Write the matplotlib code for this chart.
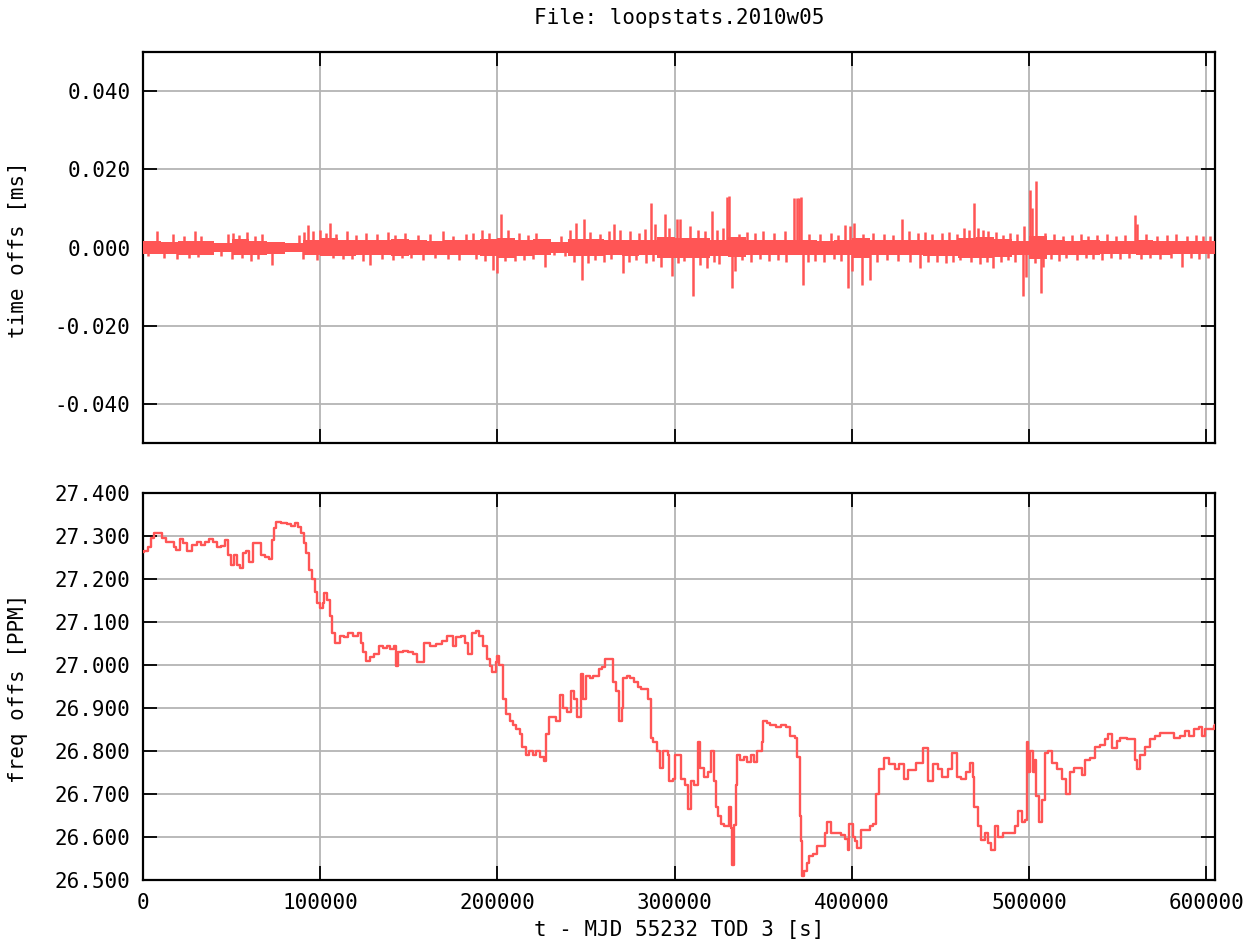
import numpy as np
import matplotlib
matplotlib.use('Agg')
import matplotlib.pyplot as plt

plt.rcParams['font.family'] = ['DejaVu Sans Mono']

# time offset: band envelope every 10 ks (values in 1e-3 ms)
band_t = [0, 10, 20, 30, 40, 50, 60, 70, 80, 90,
          100, 110, 120, 130, 140, 150, 160, 170, 180, 190,
          200, 210, 220, 230, 240, 250, 260, 270, 280, 290,
          300, 310, 320, 330, 340, 350, 360, 370, 380, 390,
          400, 410, 420, 430, 440, 450, 460, 470, 480, 490,
          500, 510, 520, 530, 540, 550, 560, 570, 580, 590,
          604.8]
band_hi = [1.6, 1.4, 1.7, 1.6, 1.2, 2.2, 1.7, 1.4, 1.2, 2.0,
           2.4, 2.0, 1.8, 2.0, 2.2, 1.8, 1.7, 1.9, 1.8, 2.2,
           2.4, 2.0, 2.1, 1.3, 2.2, 2.2, 1.9, 2.0, 1.8, 2.6,
           2.4, 2.4, 2.0, 2.6, 1.9, 1.8, 1.9, 1.8, 1.7, 1.8,
           2.4, 1.8, 1.8, 2.0, 1.9, 2.0, 2.4, 2.6, 2.2, 1.6,
           2.9, 1.9, 1.7, 1.8, 1.7, 1.6, 1.8, 1.7, 1.6, 1.7,
           1.7]
band_lo = [-1.7, -1.6, -1.8, -1.9, -1.2, -2.0, -1.8, -1.6, -1.2, -1.9,
           -2.2, -2.1, -2.0, -2.0, -2.1, -1.8, -1.9, -1.9, -1.8, -2.2,
           -2.6, -2.1, -2.0, -1.3, -2.3, -2.2, -1.9, -2.2, -1.8, -2.8,
           -2.6, -2.6, -2.2, -2.4, -1.9, -2.0, -1.9, -2.0, -1.8, -2.0,
           -2.6, -2.0, -1.8, -2.0, -2.1, -2.2, -2.6, -2.8, -2.4, -1.8,
           -2.9, -2.0, -1.8, -1.9, -1.7, -1.7, -1.8, -1.8, -1.7, -1.7,
           -1.7]

# spikes above / below the band (t in ks, value in 1e-3 ms)
up_t = [7.7, 17, 23, 29.3, 33, 48, 51, 54, 58.5, 63,
        67, 88, 91, 93, 96, 100, 103, 105.5, 109, 115,
        120, 126, 132, 138, 142, 148, 155, 162, 169, 175,
        182, 186, 191, 195, 202, 206, 212, 217, 222, 236,
        241, 244.5, 249, 252, 258, 263, 266, 269, 275, 280,
        283, 286.5, 289, 294.4, 297, 301, 303, 308.5, 313, 317,
        320.8, 324, 327, 329.5, 330.8, 336, 341, 345, 350, 356,
        362, 367.5, 368.7, 369.9, 371.2, 376, 382, 388, 392, 396,
        399, 401, 406, 412, 418, 423, 428, 432, 437, 441,
        445, 451, 455, 459, 463, 466, 469, 471, 474, 477,
        481, 485, 489, 493, 497, 500.3, 501.3, 503.9, 509, 514,
        519, 524, 529, 533, 538, 544, 549, 554, 559.4, 561,
        566, 572, 578, 583, 589, 594, 598, 602]
up_v = [4.2, 3.4, 3.0, 4.2, 3.0, 3.5, 3.8, 3.2, 4.0, 3.0,
        3.4, 3.2, 4.0, 5.8, 4.2, 4.5, 3.8, 6.3, 3.5, 4.2,
        3.2, 3.8, 3.5, 4.0, 3.3, 3.8, 3.2, 3.5, 4.2, 3.0,
        3.4, 3.8, 4.5, 3.6, 8.5, 4.5, 3.8, 3.2, 3.6, 3.0,
        4.5, 6.3, 7.3, 4.0, 3.5, 4.2, 6.0, 4.5, 4.2, 3.6,
        4.8, 11.5, 6.0, 8.5, 5.0, 7.2, 7.2, 5.5, 4.5, 4.2,
        9.3, 4.5, 5.0, 13.0, 13.1, 3.5, 4.0, 3.6, 4.2, 3.8,
        4.2, 12.7, 12.7, 12.7, 12.8, 3.5, 3.4, 3.8, 3.2, 5.8,
        5.5, 6.3, 3.5, 3.6, 3.5, 3.2, 7.2, 4.2, 3.8, 4.0,
        3.4, 3.8, 4.0, 3.4, 5.0, 4.5, 11.5, 5.0, 4.5, 4.2,
        4.0, 3.3, 3.7, 3.5, 5.5, 14.8, 10.0, 17.0, 3.8, 3.5,
        3.0, 3.2, 3.5, 3.0, 3.2, 3.4, 3.0, 3.2, 8.4, 6.0,
        3.4, 3.0, 3.2, 3.4, 3.0, 3.2, 3.0, 3.0]
dn_t = [3, 12, 19, 26, 31, 44, 50, 56, 61, 65,
        72.6, 90, 98, 107, 113, 118, 124, 128, 135, 141,
        146, 151, 158, 165, 172, 178, 188, 193, 197.7, 200,
        204, 210, 215, 220, 226.7, 232, 238, 243, 247.5, 251,
        255, 260, 264, 271, 274, 278, 284, 288, 292, 298.5,
        302, 305, 310.4, 314, 318, 322, 325, 332.4, 334, 338,
        343, 348, 353, 358, 363, 372.5, 375, 379, 384, 390,
        394, 398, 400, 405.5, 410, 414, 420, 426, 433, 438.2,
        443, 448, 453, 457, 461, 467, 472, 476, 479.7, 484,
        488, 492, 496.6, 498, 503, 506.5, 508, 512, 517, 521,
        527, 532, 536, 541, 546, 551, 556, 563, 568, 574,
        580, 586.4, 591, 596, 601]
dn_v = [-2.2, -2.8, -3.0, -2.8, -2.5, -2.2, -3.0, -2.8, -3.4, -3.0,
        -4.4, -3.0, -3.2, -2.8, -3.0, -3.0, -3.4, -4.4, -3.0, -3.2,
        -2.8, -2.8, -3.2, -2.8, -3.0, -3.2, -3.0, -3.4, -5.7, -6.5,
        -3.5, -3.4, -3.2, -3.0, -5.0, -2.0, -2.2, -3.6, -8.2, -4.0,
        -3.2, -3.6, -3.0, -6.5, -3.8, -3.2, -4.0, -3.5, -5.0, -7.4,
        -4.0, -3.5, -12.5, -4.5, -5.2, -3.6, -4.2, -10.4, -6.0, -3.2,
        -3.6, -3.0, -3.4, -3.2, -3.6, -9.5, -3.6, -3.4, -3.8, -3.0,
        -3.4, -10.3, -6.0, -9.5, -8.2, -3.6, -3.2, -3.4, -3.6, -5.2,
        -3.8, -3.6, -4.0, -3.6, -3.2, -3.8, -4.2, -3.6, -5.2, -3.6,
        -3.2, -3.6, -12.5, -7.5, -4.0, -11.7, -5.0, -3.0, -3.4, -2.8,
        -3.2, -2.8, -3.0, -3.2, -2.8, -3.0, -2.8, -3.0, -2.6, -3.0,
        -2.8, -5.0, -2.8, -3.0, -2.6]

# frequency offset (t in ks, PPM)
freq_t = [0, 0.6, 2.6, 4.6, 6, 8.7, 10.7, 12.7, 15.7, 17.7,
          18.7, 20.7, 22.7, 25, 27.8, 30.4, 32.8, 34.8, 37.2, 39.3,
          41.9, 43.9, 46.5, 47.9, 49.5, 51.5, 53, 55, 56.6, 58,
          60, 62, 64.6, 66.6, 68.7, 71, 72.7, 73.7, 75, 78,
          81, 83.5, 85.6, 87.6, 89.2, 90.8, 92.2, 93.8, 95.2, 96.8,
          98.2, 99.7, 101.3, 102.3, 103.9, 105.3, 106.9, 108.3, 111, 113.3,
          115.8, 118.4, 121.4, 123, 124.4, 125.8, 127.8, 130.5, 133, 135.5,
          137.5, 139.5, 141.5, 142.5, 144, 146.6, 149.6, 152.6, 154.6, 156.6,
          158.6, 161.7, 165.3, 168.7, 171.7, 174.8, 176.8, 179.4, 181.8, 183.4,
          185.8, 187.8, 189.8, 191.9, 193.9, 195.5, 196.9, 198.9, 199.9, 201,
          203, 205, 207, 209, 210.5, 212.5, 214, 216, 218, 220,
          222, 224, 226.5, 227.5, 229, 231, 233, 235, 237, 239,
          241.7, 243, 245, 247, 248.2, 250, 252, 254, 257, 259,
          260.5, 263, 265.3, 267, 268.7, 270, 271, 273, 275, 277,
          279, 281, 284, 285, 286.6, 288, 290, 291.6, 293.5, 296,
          297, 299, 300, 302.8, 303.7, 305.6, 307.4, 309, 311, 313,
          314, 316.7, 318.6, 320.5, 322.3, 323.5, 324.5, 326, 328, 330.7,
          331.6, 332.2, 333.5, 334.5, 335.4, 337, 339, 341, 343, 344.7,
          346.5, 349, 350, 352, 354, 357, 360, 363, 365, 368,
          369, 370.4, 371.2, 372, 373, 374.5, 376, 378, 380, 383,
          384.5, 386, 388, 392, 394, 396, 397.5, 398.5, 400.4, 401.5,
          403, 405, 408, 410, 411.7, 413.6, 415.5, 418, 421, 424,
          426.8, 429.6, 431.5, 436, 440, 442.8, 445.7, 448.5, 451, 454,
          456.6, 459, 461.7, 464.5, 466.4, 468, 469, 471, 473, 475,
          476.8, 478.7, 480.6, 482.5, 485, 490, 492, 493.8, 495.7, 497.5,
          498.5, 499.4, 500.4, 502, 503, 504, 505.6, 507, 508.8, 510.8,
          512.6, 515.5, 518.3, 521, 523, 525, 527.7, 529.6, 531.5, 534,
          537, 540, 542.8, 544.7, 546.6, 549.4, 551.3, 555, 558, 559.8,
          561, 562.6, 565.5, 568.3, 571, 574, 578.7, 581.5, 585, 588,
          590, 593, 596, 597.5, 599.4, 604, 604.8]
freq_ppm = [27.262, 27.264, 27.275, 27.295, 27.308, 27.308, 27.295, 27.287, 27.287, 27.275,
            27.268, 27.292, 27.283, 27.264, 27.28, 27.285, 27.28, 27.287, 27.292, 27.285,
            27.275, 27.277, 27.29, 27.256, 27.233, 27.256, 27.233, 27.225, 27.26, 27.266,
            27.24, 27.283, 27.283, 27.256, 27.25, 27.246, 27.29, 27.318, 27.333, 27.331,
            27.327, 27.323, 27.331, 27.322, 27.306, 27.283, 27.26, 27.22, 27.2, 27.17,
            27.145, 27.133, 27.145, 27.168, 27.152, 27.114, 27.075, 27.052, 27.068, 27.064,
            27.075, 27.068, 27.075, 27.052, 27.03, 27.01, 27.018, 27.025, 27.045, 27.04,
            27.045, 27.037, 27.045, 26.998, 27.03, 27.033, 27.03, 27.025, 27.006, 27.006,
            27.052, 27.045, 27.048, 27.056, 27.068, 27.045, 27.064, 27.068, 27.052, 27.025,
            27.075, 27.08, 27.068, 27.045, 27.014, 26.998, 26.983, 27.006, 27.02, 27.0,
            26.92, 26.885, 26.87, 26.86, 26.85, 26.84, 26.81, 26.79, 26.80, 26.79,
            26.80, 26.785, 26.777, 26.84, 26.88, 26.88, 26.87, 26.93, 26.90, 26.89,
            26.94, 26.92, 26.88, 26.98, 26.92, 26.975, 26.97, 26.975, 26.99, 26.995,
            27.015, 27.015, 26.96, 26.94, 26.87, 26.90, 26.97, 26.975, 26.97, 26.96,
            26.95, 26.945, 26.945, 26.92, 26.83, 26.82, 26.80, 26.76, 26.80, 26.79,
            26.73, 26.735, 26.79, 26.79, 26.735, 26.72, 26.665, 26.73, 26.72, 26.82,
            26.76, 26.74, 26.75, 26.80, 26.73, 26.67, 26.65, 26.63, 26.625, 26.67,
            26.62, 26.535, 26.627, 26.72, 26.79, 26.78, 26.785, 26.775, 26.79, 26.775,
            26.80, 26.82, 26.87, 26.865, 26.86, 26.855, 26.86, 26.855, 26.835, 26.83,
            26.785, 26.65, 26.59, 26.51, 26.52, 26.54, 26.555, 26.56, 26.58, 26.58,
            26.61, 26.635, 26.61, 26.61, 26.605, 26.595, 26.57, 26.63, 26.60, 26.59,
            26.575, 26.617, 26.617, 26.625, 26.63, 26.70, 26.757, 26.784, 26.77, 26.757,
            26.77, 26.734, 26.755, 26.772, 26.807, 26.73, 26.77, 26.757, 26.74, 26.757,
            26.796, 26.74, 26.734, 26.75, 26.772, 26.74, 26.67, 26.625, 26.593, 26.61,
            26.586, 26.57, 26.625, 26.60, 26.61, 26.61, 26.625, 26.66, 26.636, 26.64,
            26.82, 26.75, 26.80, 26.75, 26.78, 26.695, 26.636, 26.687, 26.796, 26.80,
            26.773, 26.757, 26.734, 26.70, 26.75, 26.76, 26.76, 26.745, 26.78, 26.784,
            26.81, 26.815, 26.827, 26.84, 26.807, 26.823, 26.83, 26.827, 26.827, 26.78,
            26.757, 26.79, 26.81, 26.827, 26.835, 26.843, 26.843, 26.83, 26.835, 26.847,
            26.835, 26.85, 26.855, 26.835, 26.85, 26.858, 26.86]

x_ticks = [0, 100000, 200000, 300000, 400000, 500000, 600000]
off_ticks = [-0.040, -0.020, 0.000, 0.020, 0.040]
freq_ticks = [26.5, 26.6, 26.7, 26.8, 26.9, 27.0, 27.1, 27.2, 27.3, 27.4]

red = '#ff5555'
grid_c = '#b4b4b4'
W, H = 1260, 947
fs = 15

fig = plt.figure(figsize=(12.6, 9.47), dpi=100)
ax1 = fig.add_axes([143 / W, 1 - 443 / H, (1215 - 143) / W, (443 - 52) / H])
ax2 = fig.add_axes([143 / W, 1 - 880 / H, (1215 - 143) / W, (880 - 493) / H])

# top panel: time offset
bt = np.array(band_t) * 1000
ax1.axhline(0, color='black', lw=1.0, ls=(0, (1, 4)), zorder=1)
ax1.fill_between(bt, np.array(band_lo) * 1e-3, np.array(band_hi) * 1e-3,
                 step='post', color=red, lw=0, zorder=3)
ax1.vlines(np.array(up_t) * 1000, 0, np.array(up_v) * 1e-3, color=red, lw=1.8, zorder=3)
ax1.vlines(np.array(dn_t) * 1000, 0, np.array(dn_v) * 1e-3, color=red, lw=1.8, zorder=3)
ax1.set_ylim(-0.05, 0.05)
ax1.set_yticks(off_ticks)
ax1.set_yticklabels(['%.3f' % v for v in off_ticks])

# bottom panel: frequency offset
ax2.plot(np.array(freq_t) * 1000, freq_ppm, color=red, lw=1.7,
         drawstyle='steps-post', zorder=3)
ax2.set_ylim(26.5, 27.4)
ax2.set_yticks(freq_ticks)
ax2.set_yticklabels(['%.3f' % v for v in freq_ticks])

for ax in (ax1, ax2):
    ax.set_xlim(0, 604800)
    ax.set_xticks(x_ticks)
    ax.grid(True, color=grid_c, lw=1.3, zorder=0)
    ax.set_axisbelow(True)
    ax.tick_params(direction='in', length=10, width=1.3, top=True, right=True,
                   labelsize=fs, pad=9, colors='black')
    for s in ax.spines.values():
        s.set_linewidth(1.6)
        s.set_color('black')

ax1.tick_params(labelbottom=False)
ax2.set_xticklabels([str(v) for v in x_ticks])

fig.text(679 / W, 1 - 18 / H, 'File: loopstats.2010w05', ha='center', va='center', fontsize=fs)
fig.text(18 / W, 1 - 250 / H, 'time offs [ms]', rotation=90, ha='center', va='center', fontsize=fs)
fig.text(18 / W, 1 - 688 / H, 'freq offs [PPM]', rotation=90, ha='center', va='center', fontsize=fs)
fig.text(679 / W, 1 - 930 / H, 't - MJD 55232 TOD 3 [s]', ha='center', va='center', fontsize=fs)

fig.savefig('out.png', dpi=100)
